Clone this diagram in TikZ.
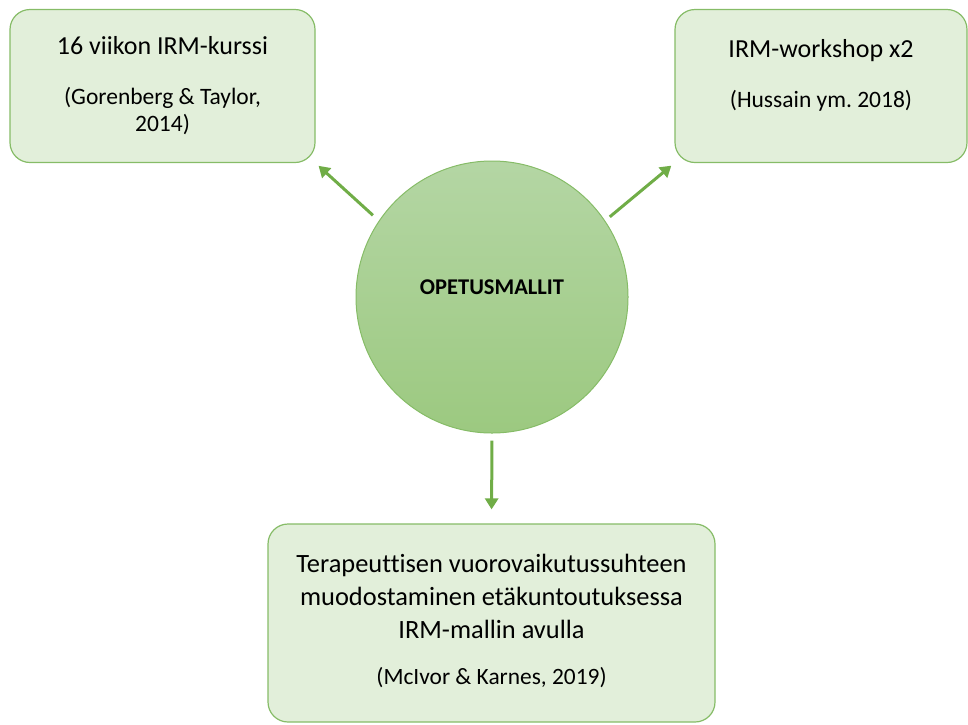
\documentclass[tikz,border=0pt]{standalone}
\usepackage{fontspec}
\setmainfont{Carlito}[Ligatures=NoCommon]
\usetikzlibrary{arrows.meta}
\definecolor{boxfill}{HTML}{E2EFDA}
\definecolor{boxline}{HTML}{86BC67}
\definecolor{hubtop}{HTML}{B4D6A4}
\definecolor{hubbot}{HTML}{9CC980}
\definecolor{linkgreen}{HTML}{70AD47}
\tikzset{
  box/.style={draw=boxline, line width=1.2pt, fill=boxfill, rounded corners=20pt, align=center, inner sep=0pt},
  hub/.style={circle, draw=boxline, line width=1pt, top color=hubtop, bottom color=hubbot, minimum size=272pt, inner sep=0pt},
  link/.style={draw=linkgreen, line width=3pt, -{Triangle[length=11pt,width=13pt]}}
}
\begin{document}
\begin{tikzpicture}[x=1pt,y=-1pt]
\useasboundingbox (0,0) rectangle (968,724);
\node[hub] (0) at (492,297) {};
\node[font=\bfseries\fontsize{22.5}{26}\selectfont] (0t) at (492,287) {OPETUSMALLIT};
\node[box, minimum width=305pt, minimum height=153pt, font=\fontsize{23.5}{27}\selectfont] (1) at (162.5,86)
  {{\fontsize{26}{27}\selectfont 16 viikon IRM-kurssi}\\[23pt] (Gorenberg \& Taylor,\\ 2014)\\[-31pt]\strut};
\node[box, minimum width=292pt, minimum height=153pt, font=\fontsize{23.5}{27}\selectfont] (2) at (821,86)
  {{\fontsize{26}{27}\selectfont IRM-workshop x2}\\[23pt] (Hussain ym.\ 2018)\\[-11pt]\strut};
\node[box, minimum width=447pt, minimum height=198pt, font=\fontsize{26.4}{33}\selectfont] (3) at (491.5,623)
  {Terapeuttisen vuorovaikutussuhteen\\ muodostaminen etäkuntoutuksessa\\ IRM-mallin avulla\\[13pt]
   {\fontsize{23.4}{33}\selectfont (McIvor \& Karnes, 2019)}\\[-36pt]\strut};
\path[link, shorten <=8pt, shorten >=4pt] (0.146) -- (1.south east);
\path[link, shorten <=6pt, shorten >=4pt] (0.34) -- (2.south west);
\path[link, shorten <=7pt, shorten >=14pt] (0.south) -- (3.north);
\end{tikzpicture}
\end{document}
